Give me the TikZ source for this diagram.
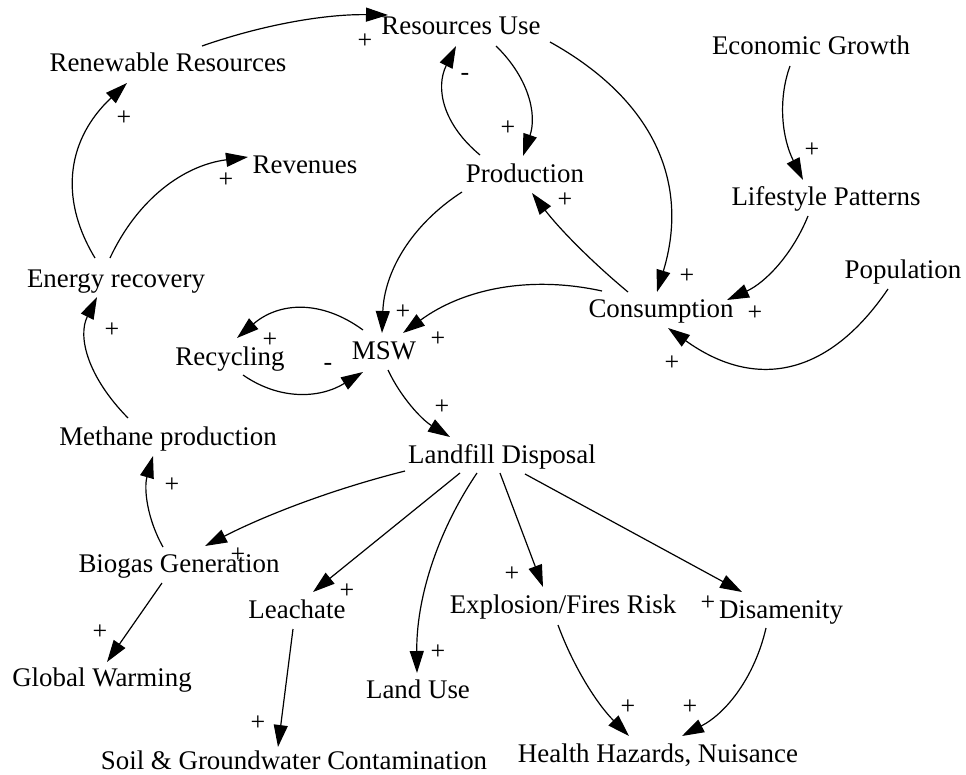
\documentclass[tikz,border=0pt]{standalone}
\usepackage{fontspec}
\setmainfont{Liberation Serif}
\usetikzlibrary{arrows.meta}
\tikzset{
  var/.style={anchor=base, inner sep=0pt, font=\fontsize{27}{32}\selectfont},
  sign/.style={inner sep=0pt, font=\fontsize{26}{30}\selectfont},
  link/.style={line width=1.2bp, -{Triangle[length=22bp,width=14bp]}},
}
\begin{document}
\begin{tikzpicture}[x=1bp,y=-1bp]
\fill[white] (0,0) rectangle (966,775);
\useasboundingbox (0,0) rectangle (966,775);

% variables (placed by baseline)
\node[var] (ru)   at (461,35)  {Resources Use};
\node[var] (rr)   at (168,72)  {Renewable Resources};
\node[var] (eg)   at (811,55)  {Economic Growth};
\node[var] (rev)  at (305,173) {Revenues};
\node[var] (prod) at (525,182) {Production};
\node[var] (lp)   at (826,205) {Lifestyle Patterns};
\node[var] (er)   at (116,287) {Energy recovery};
\node[var] (pop)  at (903,278) {Population};
\node[var] (cons) at (661,317) {Consumption};
\node[var] (rec)  at (230,365) {Recycling};
\node[var] (msw)  at (384,359) {MSW};
\node[var] (meth) at (168,445) {Methane production};
\node[var] (ld)   at (502,463) {Landfill Disposal};
\node[var] (bg)   at (179,572) {Biogas Generation};
\node[var] (lea)  at (297,618) {Leachate};
\node[var] (exp)  at (563,613) {Explosion/Fires Risk};
\node[var] (dis)  at (781,618) {Disamenity};
\node[var] (gw)   at (102,686) {Global Warming};
\node[var] (lu)   at (418,698) {Land Use};
\node[var] (soil) at (294,769) {Soil \& Groundwater Contamination};
\node[var] (hh)   at (658,762) {Health Hazards, Nuisance};

% causal links
\draw[link] ([shift={(34,-26)}]rr.base) .. controls +(62,-21.7) and +(-62,-1) .. ([shift={(-73,-20)}]ru.base);
\draw[link] ([shift={(35,11)}]ru.base) .. controls +(32.3,31.3) and +(14.3,-42) .. ([shift={(-2,-26)}]prod.base);
\draw[link] ([shift={(-45,-27)}]prod.base) .. controls +(-37,-30.7) and +(-21,42) .. ([shift={(-5,11)}]ru.base);
\draw[link] ([shift={(89,7)}]ru.base) .. controls +(104.3,58) and +(33,-108.7) .. ([shift={(-4,-25)}]cons.base);
\draw[link] ([shift={(-33,-25)}]cons.base) .. controls +(-37.3,-31) and +(26.7,35) .. ([shift={(7,11)}]prod.base);
\draw[link] ([shift={(-21,11)}]eg.base) .. controls +(-12.3,34) and +(-21,-42) .. ([shift={(-23,-25)}]lp.base);
\draw[link] ([shift={(-18,11)}]lp.base) .. controls +(-15.7,38.7) and +(38.3,-17.3) .. ([shift={(66,-17)}]cons.base);
\draw[link] ([shift={(-15,11)}]pop.base) .. controls +(-60,88.3) and +(86.7,62.3) .. ([shift={(7,11)}]cons.base);
\draw[link] ([shift={(-59,-26)}]cons.base) .. controls +(-72.7,-16) and +(59.9,-44) .. ([shift={(19,-26)}]msw.base);
\draw[link] ([shift={(-63,10)}]prod.base) .. controls +(-51,33) and +(2.3,-61) .. ([shift={(-2,-26)}]msw.base);
\draw[link] ([shift={(-21,-29)}]msw.base) .. controls +(-42,-30.7) and +(42,-36) .. ([shift={(7,-27)}]rec.base);
\draw[link] ([shift={(13,10)}]rec.base) .. controls +(36,25) and +(-44,27) .. ([shift={(-21,13)}]msw.base);
\draw[link] ([shift={(4,11)}]msw.base) .. controls +(12.7,27) and +(-28.7,-17.7) .. ([shift={(-52,-26)}]ld.base);
\draw[link] ([shift={(-40,-27)}]meth.base) .. controls +(-40.3,-41) and +(-19.7,39.7) .. ([shift={(-19,10)}]er.base);
\draw[link] ([shift={(-21,-29)}]er.base) .. controls +(-37.3,-61.7) and +(-58.7,55) .. ([shift={(-41,11)}]rr.base);
\draw[link] ([shift={(-6,-29)}]er.base) .. controls +(27.6,-59) and +(-64.4,8.3) .. ([shift={(-57,-16)}]rev.base);
\draw[link] ([shift={(-97,8)}]ld.base) .. controls +(-69.5,17.5) and +(63.9,-32.5) .. ([shift={(26,-26)}]bg.base);
\draw[link] ([shift={(-16,-25)}]bg.base) .. controls +(-16,-28.3) and +(-9.3,32.3) .. ([shift={(-15,11)}]meth.base);
\draw[link] ([shift={(-17,11)}]bg.base) -- ([shift={(5,-24)}]gw.base);
\draw[link] ([shift={(-42,10)}]ld.base) -- ([shift={(16,-26)}]lea.base);
\draw[link] ([shift={(-4,11)}]lea.base) -- ([shift={(-16,-22)}]soil.base);
\draw[link] ([shift={(-25,10)}]ld.base) .. controls +(-40.8,60.4) and +(-0.8,-72.9) .. ([shift={(-1,-25)}]lu.base);
\draw[link] ([shift={(-2,10)}]ld.base) -- ([shift={(-20,-26)}]exp.base);
\draw[link] ([shift={(23,11)}]ld.base) -- ([shift={(-39,-26)}]dis.base);
\draw[link] ([shift={(-5,12)}]exp.base) .. controls +(15.5,42.2) and +(-31.8,-31.8) .. ([shift={(-29,-26)}]hh.base);
\draw[link] ([shift={(-15,10)}]dis.base) .. controls +(-11.3,48.8) and +(44.7,-23.2) .. ([shift={(24,-26)}]hh.base);

% polarity signs
\node[sign] (p1)  at (365,41)  {+};
\node[sign] (p2)  at (508,128) {+};
\node[sign] (p3)  at (465,77)  {-};
\node[sign] (p4)  at (687,276) {+};
\node[sign] (p5)  at (565,200) {+};
\node[sign] (p6)  at (812,150) {+};
\node[sign] (p7)  at (755,313) {+};
\node[sign] (p8)  at (672,363) {+};
\node[sign] (p9)  at (438,339) {+};
\node[sign] (p10) at (403,312) {+};
\node[sign] (p11) at (270,340) {+};
\node[sign] (p12) at (328,367) {-};
\node[sign] (p13) at (442,407) {+};
\node[sign] (p14) at (112,330) {+};
\node[sign] (p15) at (124,118) {+};
\node[sign] (p16) at (226,180) {+};
\node[sign] (p17) at (238,555) {+};
\node[sign] (p18) at (172,485) {+};
\node[sign] (p19) at (100,632) {+};
\node[sign] (p20) at (347,591) {+};
\node[sign] (p21) at (258,723) {+};
\node[sign] (p22) at (438,652) {+};
\node[sign] (p23) at (512,574) {+};
\node[sign] (p24) at (708,603) {+};
\node[sign] (p25) at (628,707) {+};
\node[sign] (p26) at (690,707) {+};
\end{tikzpicture}
\end{document}
